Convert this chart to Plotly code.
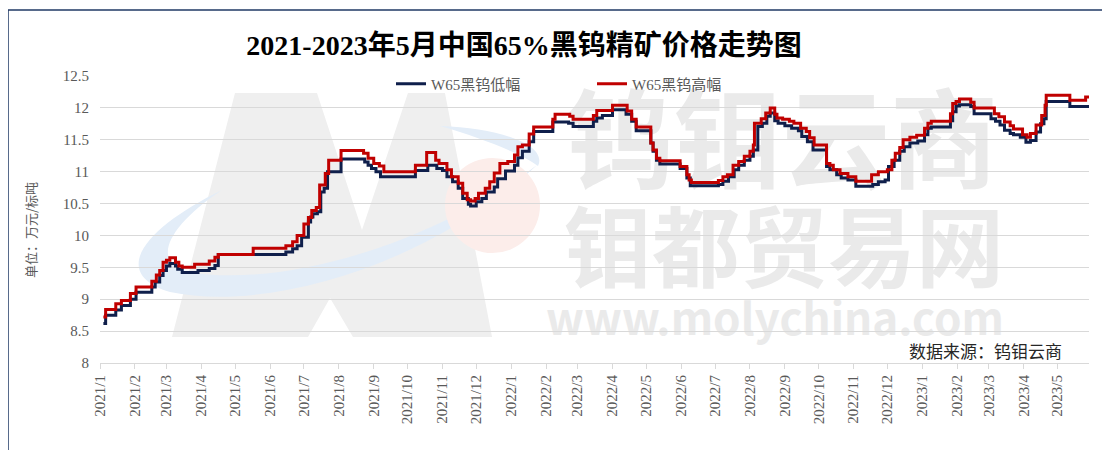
import plotly.graph_objects as go

# ---------------- data ----------------
low_dates = [
    "2021-01-04", "2021-01-06", "2021-01-15", "2021-01-20", "2021-01-28", "2021-02-02",
    "2021-02-16", "2021-02-19", "2021-02-23", "2021-02-26", "2021-03-01", "2021-03-04",
    "2021-03-09", "2021-03-11", "2021-03-15", "2021-03-29", "2021-04-08", "2021-04-13",
    "2021-04-16", "2021-06-15", "2021-06-21", "2021-06-25", "2021-06-29", "2021-07-05",
    "2021-07-07", "2021-07-09", "2021-07-13", "2021-07-16", "2021-07-19", "2021-07-22",
    "2021-08-03", "2021-08-24", "2021-08-27", "2021-08-30", "2021-09-03", "2021-09-07",
    "2021-10-08", "2021-10-19", "2021-10-27", "2021-11-01", "2021-11-05", "2021-11-10",
    "2021-11-15", "2021-11-19", "2021-11-24", "2021-11-26", "2021-12-01", "2021-12-06",
    "2021-12-10", "2021-12-17", "2021-12-20", "2021-12-27", "2022-01-04", "2022-01-07",
    "2022-01-11", "2022-01-17", "2022-01-21", "2022-02-07", "2022-02-21", "2022-02-25",
    "2022-03-15", "2022-03-18", "2022-03-23", "2022-04-01", "2022-04-13", "2022-04-18",
    "2022-04-22", "2022-05-05", "2022-05-07", "2022-05-10", "2022-05-13", "2022-05-31",
    "2022-06-06", "2022-06-09", "2022-07-04", "2022-07-08", "2022-07-13", "2022-07-18",
    "2022-07-22", "2022-07-27", "2022-08-01", "2022-08-04", "2022-08-08", "2022-08-12",
    "2022-08-16", "2022-08-19", "2022-08-23", "2022-08-26", "2022-09-01", "2022-09-07",
    "2022-09-13", "2022-09-16", "2022-09-21", "2022-09-26", "2022-10-08", "2022-10-11",
    "2022-10-17", "2022-10-21", "2022-10-27", "2022-11-03", "2022-11-18", "2022-11-23",
    "2022-11-29", "2022-12-02", "2022-12-07", "2022-12-12", "2022-12-16", "2022-12-21",
    "2022-12-28", "2023-01-03", "2023-01-06", "2023-01-09", "2023-01-26", "2023-01-28",
    "2023-01-31", "2023-02-03", "2023-02-13", "2023-02-16", "2023-03-03", "2023-03-07",
    "2023-03-11", "2023-03-15", "2023-03-20", "2023-03-23", "2023-03-29", "2023-04-03",
    "2023-04-07", "2023-04-12", "2023-04-16", "2023-04-19", "2023-04-21", "2023-05-12",
    "2023-05-29",
]
low_values = [
    8.62, 8.75, 8.83, 8.90, 9.00, 9.11,
    9.19, 9.27, 9.37, 9.45, 9.52, 9.56,
    9.52, 9.47, 9.42, 9.45, 9.48, 9.53,
    9.70, 9.74, 9.79, 9.84, 9.97, 10.21,
    10.29, 10.34, 10.37, 10.68, 10.74, 11.00,
    11.20, 11.15, 11.10, 11.05, 11.00, 10.92,
    11.02, 11.10, 11.05, 11.02, 10.92, 10.84,
    10.74, 10.58, 10.49, 10.46, 10.53, 10.58,
    10.68, 10.76, 10.89, 11.01, 11.10, 11.22,
    11.32, 11.47, 11.63, 11.78, 11.76, 11.71,
    11.79, 11.84, 11.88, 11.97, 11.90, 11.79,
    11.64, 11.45, 11.32, 11.18, 11.12, 11.05,
    10.90, 10.78, 10.80, 10.85, 10.92, 11.03,
    11.10, 11.18, 11.24, 11.34, 11.71, 11.76,
    11.87, 11.92, 11.80, 11.76, 11.72, 11.68,
    11.64, 11.55, 11.47, 11.34, 11.08, 11.03,
    10.95, 10.90, 10.87, 10.77, 10.80, 10.84,
    10.87, 11.08, 11.18, 11.32, 11.39, 11.45,
    11.48, 11.58, 11.68, 11.70, 11.80, 11.94,
    12.03, 12.05, 12.02, 11.91, 11.83, 11.79,
    11.73, 11.65, 11.60, 11.58, 11.54, 11.46,
    11.49, 11.62, 11.75, 11.83, 12.10, 12.02,
    12.02,
]

high_dates = [
    "2021-01-04", "2021-01-06", "2021-01-15", "2021-01-20", "2021-01-28", "2021-02-02",
    "2021-02-16", "2021-02-20", "2021-02-23", "2021-02-26", "2021-03-01", "2021-03-04",
    "2021-03-09", "2021-03-12", "2021-03-15", "2021-03-26", "2021-04-08", "2021-04-13",
    "2021-04-16", "2021-05-17", "2021-06-15", "2021-06-21", "2021-06-25", "2021-07-01",
    "2021-07-05", "2021-07-08", "2021-07-12", "2021-07-15", "2021-07-20", "2021-07-23",
    "2021-08-03", "2021-08-23", "2021-08-27", "2021-09-01", "2021-09-06", "2021-09-10",
    "2021-10-08", "2021-10-18", "2021-10-26", "2021-10-29", "2021-11-05", "2021-11-09",
    "2021-11-15", "2021-11-19", "2021-11-23", "2021-11-26", "2021-11-30", "2021-12-03",
    "2021-12-09", "2021-12-13", "2021-12-17", "2021-12-22", "2021-12-29", "2022-01-04",
    "2022-01-07", "2022-01-11", "2022-01-17", "2022-01-21", "2022-02-07", "2022-02-09",
    "2022-02-22", "2022-02-25", "2022-03-15", "2022-03-18", "2022-04-01", "2022-04-14",
    "2022-04-18", "2022-04-22", "2022-05-05", "2022-05-07", "2022-05-10", "2022-05-13",
    "2022-05-31", "2022-06-06", "2022-06-08", "2022-06-10", "2022-07-04", "2022-07-08",
    "2022-07-12", "2022-07-17", "2022-07-22", "2022-07-27", "2022-08-01", "2022-08-04",
    "2022-08-05", "2022-08-11", "2022-08-15", "2022-08-19", "2022-08-23", "2022-08-25",
    "2022-08-30", "2022-09-05", "2022-09-09", "2022-09-15", "2022-09-20", "2022-09-23",
    "2022-09-27", "2022-10-08", "2022-10-11", "2022-10-14", "2022-10-20", "2022-10-27",
    "2022-11-03", "2022-11-17", "2022-11-23", "2022-12-01", "2022-12-05", "2022-12-08",
    "2022-12-12", "2022-12-15", "2022-12-21", "2022-12-27", "2023-01-03", "2023-01-06",
    "2023-01-09", "2023-01-26", "2023-01-28", "2023-01-31", "2023-02-03", "2023-02-13",
    "2023-02-16", "2023-03-06", "2023-03-10", "2023-03-15", "2023-03-20", "2023-03-23",
    "2023-03-31", "2023-04-04", "2023-04-07", "2023-04-12", "2023-04-17", "2023-04-20",
    "2023-04-21", "2023-05-12", "2023-05-26", "2023-05-29",
]
high_values = [
    8.72, 8.84, 8.93, 8.98, 9.09, 9.19,
    9.28, 9.38, 9.45, 9.58, 9.61, 9.65,
    9.58, 9.52, 9.50, 9.55, 9.60, 9.66,
    9.70, 9.80, 9.84, 9.90, 10.00, 10.18,
    10.28, 10.39, 10.44, 10.79, 10.97, 11.18,
    11.33, 11.29, 11.21, 11.13, 11.09, 11.00,
    11.10, 11.30, 11.18, 11.13, 11.03, 10.92,
    10.82, 10.66, 10.56, 10.54, 10.58, 10.66,
    10.74, 10.84, 10.98, 11.13, 11.16, 11.26,
    11.39, 11.42, 11.59, 11.70, 11.82, 11.90,
    11.87, 11.82, 11.88, 11.96, 12.04, 11.95,
    11.82, 11.70, 11.45, 11.34, 11.21, 11.17,
    11.08, 10.95, 10.87, 10.83, 10.86, 10.92,
    10.95, 11.10, 11.16, 11.24, 11.32, 11.42,
    11.76, 11.83, 11.92, 12.00, 11.90, 11.84,
    11.82, 11.79, 11.76, 11.68, 11.63, 11.53,
    11.42, 11.13, 11.10, 11.03, 10.97, 10.92,
    10.85, 10.95, 11.00, 11.03, 11.18, 11.29,
    11.38, 11.50, 11.54, 11.57, 11.68, 11.76,
    11.79, 11.91, 12.07, 12.10, 12.14, 12.09,
    12.00, 11.91, 11.86, 11.78, 11.72, 11.67,
    11.58, 11.54, 11.60, 11.73, 11.88, 12.04,
    12.20, 12.12, 12.17, 12.17,
]

tick_dates = [
    "2021-01-01", "2021-02-01", "2021-03-01", "2021-04-01", "2021-05-01", "2021-06-01",
    "2021-07-01", "2021-08-01", "2021-09-01", "2021-10-01", "2021-11-01", "2021-12-01",
    "2022-01-01", "2022-02-01", "2022-03-01", "2022-04-01", "2022-05-01", "2022-06-01",
    "2022-07-01", "2022-08-01", "2022-09-01", "2022-10-01", "2022-11-01", "2022-12-01",
    "2023-01-01", "2023-02-01", "2023-03-01", "2023-04-01", "2023-05-01",
]
tick_labels = [
    "2021/1", "2021/2", "2021/3", "2021/4", "2021/5", "2021/6", "2021/7", "2021/8",
    "2021/9", "2021/10", "2021/11", "2021/12", "2022/1", "2022/2", "2022/3", "2022/4",
    "2022/5", "2022/6", "2022/7", "2022/8", "2022/9", "2022/10", "2022/11", "2022/12",
    "2023/1", "2023/2", "2023/3", "2023/4", "2023/5",
]

series_names = ["W65黑钨低幅", "W65黑钨高幅"]
title_text = "2021-2023年5月中国65%黑钨精矿价格走势图"
y_title = "单位：万元/标吨"
source_text = "数据来源：钨钼云商"

# ---------------- layout helpers ----------------
# The page body has an 8px margin; positions below are given in page pixels.
OFF = 8
W, H = 1110 - OFF, 450 - OFF
ML, MT = 100 - OFF, 76 - OFF
MR = W - (1089 - OFF)
MB = H - (363 - OFF)
PW, PH = W - ML - MR, H - MT - MB


def px(xp):
    return (xp - OFF - ML) / PW


def py(yp):
    return 1 - (yp - OFF - MT) / PH


def path_from(cmds):
    out = []
    for c in cmds:
        if isinstance(c, str):
            out.append(c)
        else:
            out.append(f"{px(c[0]):.4f},{py(c[1]):.4f}")
    return " ".join(out)


SERIF = "Liberation Serif, Noto Sans CJK SC"
CJK = "Noto Sans CJK SC"
GRAY = "#595959"
NAVY = "#0F1F4B"
RED = "#C00000"

fig = go.Figure()
fig.add_trace(go.Scatter(
    x=low_dates, y=low_values, name=series_names[0], mode="lines",
    line=dict(color=NAVY, width=3, shape="hv"), legend="legend",
))
fig.add_trace(go.Scatter(
    x=high_dates, y=high_values, name=series_names[1], mode="lines",
    line=dict(color=RED, width=3, shape="hv"), legend="legend2",
))

shapes = []
# watermark "M" logo
m_path = path_from(["M", (172, 337), "L", (235, 93), "L", (317, 93), "L", (362, 230),
                    "L", (408, 93), "L", (445, 93), "L", (492, 337), "L", (353, 337),
                    "L", (330, 298), "L", (308, 337), "Z"])
shapes.append(dict(type="path", xref="paper", yref="paper", path=m_path,
                   fillcolor="#EFEFEF", line=dict(width=0), layer="below"))
# blue swoosh
sw = path_from(["M", (222, 190), "C", (150, 225), (105, 272), (170, 292),
                "C", (265, 312), (425, 268), (537, 165),
                "C", (430, 246), (280, 288), (188, 272),
                "C", (150, 262), (168, 226), (222, 190), "Z"])
shapes.append(dict(type="path", xref="paper", yref="paper", path=sw,
                   fillcolor="#E3EDF8", line=dict(width=0), layer="below"))
sw2 = path_from(["M", (440, 126), "C", (500, 128), (548, 145), (538, 166),
                 "C", (522, 154), (482, 138), (440, 126), "Z"])
shapes.append(dict(type="path", xref="paper", yref="paper", path=sw2,
                   fillcolor="#E3EDF8", line=dict(width=0), layer="below"))
# pale red circle
shapes.append(dict(type="circle", xref="paper", yref="paper",
                   x0=px(445), x1=px(540), y0=py(253), y1=py(158),
                   fillcolor="#FCEDEA", line=dict(width=0), layer="below"))
# watermark texts
for txt, cx, cy, size in [("钨钼云商", 782, 150, 108), ("钼都贸易网", 784, 255, 88),
                          ("www.molychina.com", 775, 323, 44)]:
    shapes.append(dict(type="rect", xref="paper", yref="paper",
                       x0=px(cx - 240), x1=px(cx + 240), y0=py(cy + 50), y1=py(cy - 50),
                       line=dict(width=0), fillcolor="rgba(0,0,0,0)", layer="below",
                       label=dict(text=txt, textposition="middle center",
                                  font=dict(family=CJK, size=size, color="#EAEAEA",
                                            weight="bold"))))
# outer border (top and left)
shapes.append(dict(type="line", xref="paper", yref="paper", x0=px(8), x1=px(1120),
                   y0=py(10), y1=py(10), line=dict(color="#1F3864", width=1.5)))
shapes.append(dict(type="line", xref="paper", yref="paper", x0=px(8), x1=px(8),
                   y0=py(10), y1=py(470), line=dict(color="#1F3864", width=1.5)))

fig.update_layout(
    width=W, height=H,
    margin=dict(l=ML, r=MR, t=MT, b=MB),
    paper_bgcolor="white", plot_bgcolor="rgba(0,0,0,0)",
    title=dict(text=title_text, x=px(524), xref="paper", xanchor="center",
               y=1 - (45 - OFF) / H, yref="container", yanchor="middle",
               font=dict(family=SERIF, size=28, color="black", weight="bold")),
    shapes=shapes,
    legend=dict(orientation="h", x=px(391), xanchor="left", y=py(84), yanchor="middle",
                bgcolor="rgba(0,0,0,0)", font=dict(family=SERIF, size=15, color=GRAY)),
    legend2=dict(orientation="h", x=px(592), xanchor="left", y=py(84), yanchor="middle",
                 bgcolor="rgba(0,0,0,0)", font=dict(family=SERIF, size=15, color=GRAY)),
    xaxis=dict(type="date", range=["2021-01-01", "2023-05-29"],
               tickvals=tick_dates, ticktext=tick_labels, tickangle=-90,
               showgrid=False, showline=True, linecolor="#D9D9D9", linewidth=1,
               ticks="outside", ticklen=5, tickcolor="#D9D9D9",
               tickfont=dict(family=SERIF, size=15, color=GRAY), zeroline=False),
    yaxis=dict(range=[8, 12.5], dtick=0.5, tick0=8, showgrid=True, gridcolor="#D9D9D9",
               gridwidth=1, showline=False, zeroline=False, ticks="",
               ticklabelstandoff=10,
               tickfont=dict(family=SERIF, size=15, color=GRAY)),
    annotations=[
        dict(text=y_title, textangle=-90, x=px(30), y=py(230), xref="paper", yref="paper",
             xanchor="center", yanchor="middle", showarrow=False,
             font=dict(family=CJK, size=13, color=GRAY)),
        dict(text=source_text, x=px(1064), y=py(350), xref="paper", yref="paper",
             xanchor="right", yanchor="middle", showarrow=False,
             font=dict(family=CJK, size=17, color="#262626")),
    ],
    showlegend=True,
)

fig.write_html("out.html")
